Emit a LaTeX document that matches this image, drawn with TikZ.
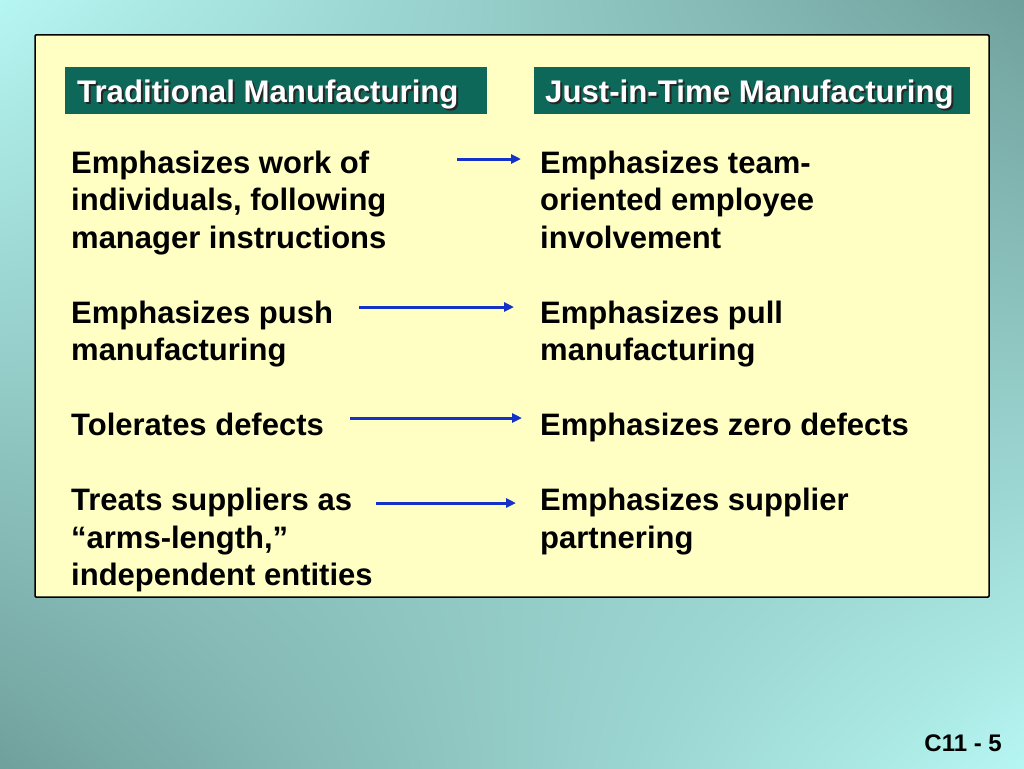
\documentclass[tikz,border=0pt]{standalone}
\usepackage{fontspec}
\setmainfont{Liberation Sans}
\usetikzlibrary{arrows.meta,shadings}

\definecolor{fondClair}{RGB}{182,246,242}
\definecolor{fondFonce}{RGB}{112,160,156}
\definecolor{panneau}{RGB}{255,255,196}
\definecolor{bandeau}{RGB}{14,104,90}
\definecolor{bleuFleche}{RGB}{20,50,200}

\tikzset{
  texte/.style={anchor=base west, inner sep=0pt, align=left,
    font=\fontsize{31}{37.5}\selectfont\bfseries},
  titre/.style={anchor=base west, inner sep=0pt, text=white,
    font=\fontsize{31.2}{36}\selectfont\bfseries},
  ombre/.style={titre, text=black!85},
  fleche/.style={bleuFleche, line width=3pt, -{Triangle[length=10pt,width=9pt]}},
}

\begin{document}
\begin{tikzpicture}[x=1pt,y=-1pt]
    \pgfmathsetmacro{\interligne}{37.5} % Interligne du texte
    \pgfmathsetmacro{\xg}{71}           % Bord gauche, colonne traditionnelle
    \pgfmathsetmacro{\xd}{540}          % Bord gauche, colonne juste-a-temps
    \pgfmathsetmacro{\ydeb}{173}        % Ligne de base de la premiere ligne

    \useasboundingbox (0,0) rectangle (1024,768);

    % Fond en degrade
    \shade[upper left=fondClair, upper right=fondFonce,
           lower left=fondFonce, lower right=fondClair] (0,0) rectangle (1024,768);

    % Panneau jaune et bandeaux
    \draw[fill=panneau, line width=1.5pt, rounded corners=1pt] (35,35) rectangle (989,597);
    \fill[bandeau] (65,67) rectangle (487,114);
    \fill[bandeau] (534,67) rectangle (970,114);

    % Titres avec ombre
    \node[ombre] (ombreTrad) at (79,104) {Traditional Manufacturing};
    \node[titre] (titreTrad) at (77,102) {Traditional Manufacturing};
    \node[ombre] (ombreJit) at (547,104) {Just-in-Time Manufacturing};
    \node[titre] (titreJit) at (545,102) {Just-in-Time Manufacturing};

    % Colonne de gauche (ancre = ligne de base de la derniere ligne)
    \node[texte] (trad1) at (\xg,{\ydeb+2*\interligne}) {Emphasizes work of\\individuals, following\\manager instructions};
    \node[texte] (trad2) at (\xg,{\ydeb+5*\interligne}) {Emphasizes push\\manufacturing};
    \node[texte] (trad3) at (\xg,{\ydeb+7*\interligne}) {Tolerates defects};
    \node[texte] (trad4) at (\xg,{\ydeb+11*\interligne}) {Treats suppliers as\\“arms-length,”\\independent entities};

    % Colonne de droite
    \node[texte] (jit1) at (\xd,{\ydeb+2*\interligne}) {Emphasizes team-\\oriented employee\\involvement};
    \node[texte] (jit2) at (\xd,{\ydeb+5*\interligne}) {Emphasizes pull\\manufacturing};
    \node[texte] (jit3) at (\xd,{\ydeb+7*\interligne}) {Emphasizes zero defects};
    \node[texte] (jit4) at (\xd,{\ydeb+10*\interligne}) {Emphasizes supplier\\partnering};

    % Fleches
    \foreach \xa/\xb/\ya [count=\i] in {457/521/159, 359/514/307, 350/522/418, 376/516/503}{
        \coordinate (dep\i) at (\xa,\ya);
        \coordinate (arr\i) at (\xb,\ya);
        \draw[fleche] (dep\i) -- (arr\i);
    }

    % Numero de diapositive
    \node[anchor=base east, inner sep=0pt, font=\fontsize{24}{28}\selectfont\bfseries] (numero) at (1002,751) {C11 - 5};
\end{tikzpicture}
\end{document}
